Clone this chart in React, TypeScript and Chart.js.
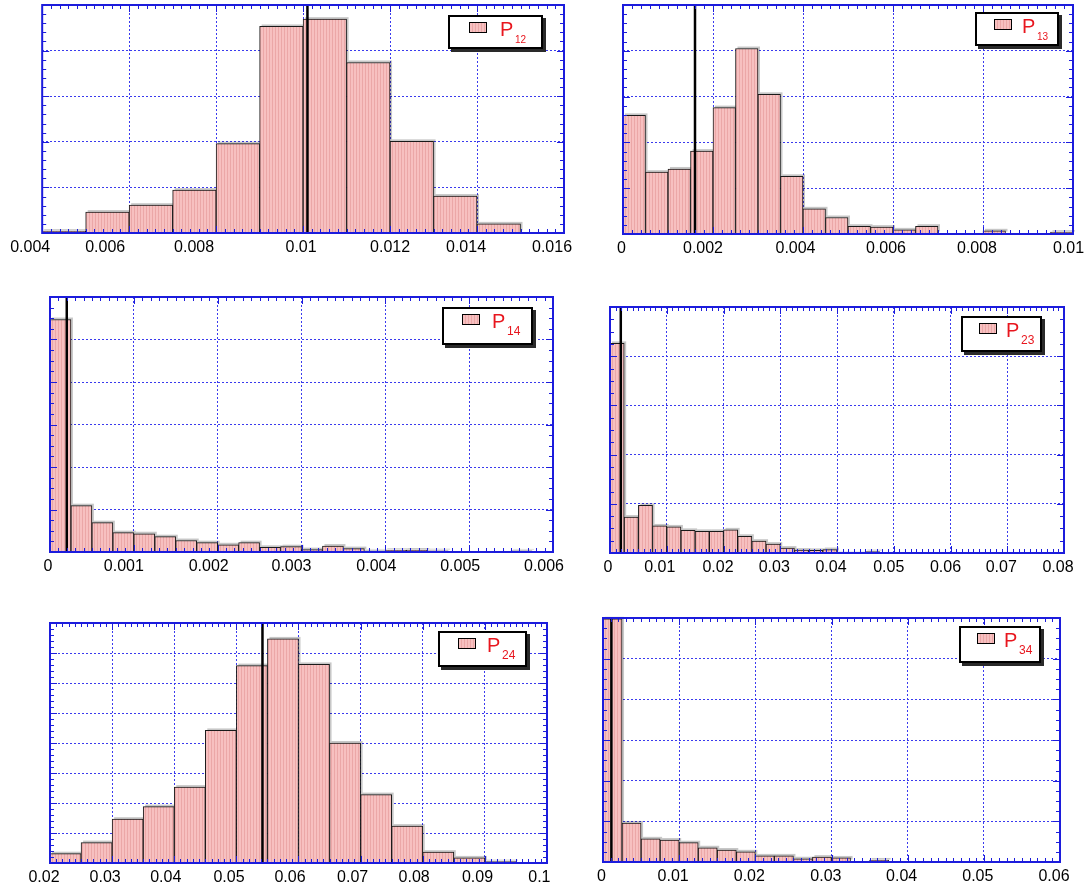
import React, { useEffect, useRef } from "react";
import { Chart, registerables } from "chart.js";

Chart.register(...registerables);

// ---------------- data ----------------
// P12
const p12Bins = [0.0045, 0.0055, 0.0065, 0.0075, 0.0085, 0.0095, 0.0105, 0.0115, 0.0125, 0.0135, 0.0145];
const p12Counts = [0.04, 0.46, 0.61, 0.94, 1.96, 4.53, 4.69, 3.74, 2.01, 0.81, 0.2];
const p12Ticks = [0.004, 0.006, 0.008, 0.01, 0.012, 0.014, 0.016];
const p12Marker = 0.0101;

// P13
const p13Bins = [0.00025, 0.00075, 0.00125, 0.00175, 0.00225, 0.00275, 0.00325, 0.00375, 0.00425, 0.00475, 0.00525, 0.00575, 0.00625, 0.00675, 0.00725, 0.00775, 0.00825, 0.00875, 0.00925, 0.00975];
const p13Counts = [2.59, 1.35, 1.42, 1.81, 2.76, 4.05, 3.05, 1.26, 0.55, 0.36, 0.17, 0.15, 0.09, 0.17, 0, 0, 0.07, 0, 0, 0.04];
const p13Ticks = [0, 0.002, 0.004, 0.006, 0.008, 0.01];
const p13Marker = 0.0016;

// P14
const p14Bins = [0.000125, 0.000375, 0.000625, 0.000875, 0.001125, 0.001375, 0.001625, 0.001875, 0.002125, 0.002375, 0.002625, 0.002875, 0.003125, 0.003375, 0.003625, 0.003875, 0.004125, 0.004375, 0.004625, 0.004875, 0.005125, 0.005375, 0.005625];
const p14Counts = [5.47, 1.09, 0.69, 0.455, 0.43, 0.36, 0.27, 0.22, 0.17, 0.22, 0.11, 0.125, 0.055, 0.14, 0.08, 0.025, 0.04, 0.047, 0.03, 0.015, 0.015, 0.01, 0.025];
const p14Ticks = [0, 0.001, 0.002, 0.003, 0.004, 0.005, 0.006];
const p14Marker = 0.0002;

// P23
const p23Bins = [0.00125, 0.00375, 0.00625, 0.00875, 0.01125, 0.01375, 0.01625, 0.01875, 0.02125, 0.02375, 0.02625, 0.02875, 0.03125, 0.03375, 0.03625, 0.03875, 0.04125, 0.04375, 0.04625];
const p23Counts = [4.26, 0.73, 0.97, 0.55, 0.53, 0.46, 0.44, 0.44, 0.47, 0.34, 0.24, 0.18, 0.1, 0.06, 0.054, 0.07, 0.02, 0.02, 0.027];
const p23Ticks = [0, 0.01, 0.02, 0.03, 0.04, 0.05, 0.06, 0.07, 0.08];
const p23Marker = 0.0019;

// P24
const p24Bins = [0.0225, 0.0275, 0.0325, 0.0375, 0.0425, 0.0475, 0.0525, 0.0575, 0.0625, 0.0675, 0.0725, 0.0775, 0.0825, 0.0875, 0.0925];
const p24Counts = [0.31, 0.68, 1.46, 1.88, 2.53, 4.42, 6.58, 7.47, 6.62, 4.0, 2.28, 1.23, 0.36, 0.17, 0.045];
const p24Ticks = [0.02, 0.03, 0.04, 0.05, 0.06, 0.07, 0.08, 0.09, 0.1];
const p24Marker = 0.0542;

// P34
const p34Bins = [0.00125, 0.00375, 0.00625, 0.00875, 0.01125, 0.01375, 0.01625, 0.01875, 0.02125, 0.02375, 0.02625, 0.02875, 0.03125, 0.03375, 0.03625];
const p34Counts = [5.98, 0.96, 0.57, 0.54, 0.475, 0.35, 0.295, 0.25, 0.15, 0.15, 0.08, 0.12, 0.1, 0.016, 0.05];
const p34Ticks = [0, 0.01, 0.02, 0.03, 0.04, 0.05, 0.06];
const p34Marker = 0.0011;

// ---------------- layout / style ----------------
type PanelCfg = {
  sub: string;
  bins: number[];
  counts: number[];
  ticks: number[];
  marker: number;
  rows: number;
  yMinor: number;
  rect: [number, number, number, number];
  legend: [number, number, number, number];
  labelShift: number[]; // px shift of each tick label relative to its tick
  subSize: number;
};

const panels: PanelCfg[] = [
  { sub: "12", bins: p12Bins, counts: p12Counts, ticks: p12Ticks, marker: p12Marker, rows: 5, yMinor: 5, rect: [42, 5, 564, 233], legend: [448, 15, 95, 34], labelShift: [-12, -24, -22, -2, 0, -11, -12], subSize: 10 },
  { sub: "13", bins: p13Bins, counts: p13Counts, ticks: p13Ticks, marker: p13Marker, rows: 5, yMinor: 5, rect: [623, 5, 1073, 234], legend: [975, 12, 84, 34], labelShift: [-1.5, -10, -7.5, -7, -6, -4.5], subSize: 10 },
  { sub: "14", bins: p14Bins, counts: p14Counts, ticks: p14Ticks, marker: p14Marker, rows: 6, yMinor: 4, rect: [50, 297, 553, 552], legend: [442, 307, 91, 38], labelShift: [-2, -10, -9, -10, -9, -9, -9], subSize: 12 },
  { sub: "23", bins: p23Bins, counts: p23Counts, ticks: p23Ticks, marker: p23Marker, rows: 5, yMinor: 4, rect: [610, 307, 1064, 553], legend: [961, 316, 81, 36], labelShift: [-2, -7, -5.5, -6, -6, -5, -5, -6, -6], subSize: 12 },
  { sub: "24", bins: p24Bins, counts: p24Counts, ticks: p24Ticks, marker: p24Marker, rows: 8, yMinor: 5, rect: [50, 623, 547, 863], legend: [438, 631, 89, 36], labelShift: [-6, -7, -8.5, -7.4, -8.5, -8, -8.6, -7.4, -7.6], subSize: 12 },
  { sub: "34", bins: p34Bins, counts: p34Counts, ticks: p34Ticks, marker: p34Marker, rows: 6, yMinor: 4, rect: [603, 618, 1060, 862], legend: [959, 626, 82, 37], labelShift: [-1.5, -6, -6, -5.6, -6, -6, -6], subSize: 12 },
];

const PADX = 36;
const PADT = 3;
const AXIS_H = 26;
const PADB = 0;
const X_MINOR = 10;
const GRID = "#3a3aee";
const FRAME = "#1c1cdc";
const FONT = '"Liberation Sans", Arial, sans-serif';
const RED = "#e8161e";

function makePattern(ctx: CanvasRenderingContext2D) {
  const c = document.createElement("canvas");
  c.width = 3;
  c.height = 4;
  const g = c.getContext("2d")!;
  g.fillStyle = "#f7c0c0";
  g.fillRect(0, 0, 3, 4);
  g.fillStyle = "#eba7a7";
  g.fillRect(2, 0, 1, 4);
  return ctx.createPattern(c, "repeat");
}

function fmt(v: number) {
  return String(Number(Number(v).toPrecision(6)));
}

function HistPanel({ cfg }: { cfg: PanelCfg }) {
  const ref = useRef<HTMLCanvasElement>(null);
  const [L, T, R, B] = cfg.rect;
  const w = R - L + 2 * PADX;
  const h = B - T + PADT + AXIS_H + PADB;

  useEffect(() => {
    const canvas = ref.current!;
    const ctx = canvas.getContext("2d")!;
    const pat = makePattern(ctx);
    const ticks = cfg.ticks;
    const xMin = ticks[0];
    const xMax = ticks[ticks.length - 1];
    const unitPerPx = (xMax - xMin) / (R - L);
    const labelAnchors = ticks.map((t, i) => t + cfg.labelShift[i] * unitPerPx);
    const labelTexts = ticks.map(fmt);

    const shadowPlugin = {
      id: "barShadow",
      beforeDatasetsDraw(chart: any) {
        const meta = chart.getDatasetMeta(1);
        const c = chart.ctx;
        c.save();
        c.fillStyle = "rgba(0,0,0,0.22)";
        meta.data.forEach((el: any) => {
          const p = el.getProps(["x", "y", "base", "width"], true);
          if (p.base - p.y < 0.5) return;
          c.fillRect(p.x - p.width / 2 + 2, p.y - 2, p.width, p.base - p.y);
        });
        c.restore();
      },
    };

    const framePlugin = {
      id: "frameTicks",
      afterDatasetsDraw(chart: any) {
        const c = chart.ctx;
        const a = chart.chartArea;
        const xs = chart.scales.x;
        const ys = chart.scales.y;
        c.save();
        c.strokeStyle = FRAME;
        c.lineWidth = 1;
        c.beginPath();
        for (let i = 0; i < ticks.length - 1; i++) {
          for (let k = 0; k < X_MINOR; k++) {
            const v = ticks[i] + ((ticks[i + 1] - ticks[i]) * k) / X_MINOR;
            const px = Math.round(xs.getPixelForValue(v)) + 0.5;
            const len = k === 0 ? 7 : 4;
            c.moveTo(px, a.top);
            c.lineTo(px, a.top + len);
            c.moveTo(px, a.bottom);
            c.lineTo(px, a.bottom - len);
          }
        }
        for (let r = 0; r < cfg.rows; r++) {
          for (let k = 0; k < cfg.yMinor; k++) {
            const v = r + k / cfg.yMinor;
            const py = Math.round(ys.getPixelForValue(v)) + 0.5;
            const len = k === 0 ? 7 : 4;
            c.moveTo(a.left, py);
            c.lineTo(a.left + len, py);
            c.moveTo(a.right, py);
            c.lineTo(a.right - len, py);
          }
        }
        c.stroke();
        c.lineWidth = 2;
        c.strokeRect(a.left, a.top, a.right - a.left, a.bottom - a.top);
        c.restore();
      },
    };

    const chart = new Chart(ctx, {
      type: "bar",
      data: {
        datasets: [
          {
            type: "line",
            data: [
              { x: cfg.marker, y: 0 },
              { x: cfg.marker, y: cfg.rows },
            ],
            borderColor: "#000",
            borderWidth: 2.5,
            pointRadius: 0,
            order: 0,
          },
          {
            type: "bar",
            data: cfg.bins.map((b, i) => ({ x: b, y: cfg.counts[i] })),
            backgroundColor: pat,
            borderColor: "#1a1a1a",
            borderWidth: 1,
            barPercentage: 1,
            categoryPercentage: 1,
            order: 1,
          },
        ],
      } as any,
      options: {
        responsive: false,
        animation: false,
        devicePixelRatio: 1,
        layout: { padding: { left: PADX, right: PADX, top: PADT, bottom: PADB } },
        plugins: { legend: { display: false }, tooltip: { enabled: false } },
        scales: {
          x: {
            type: "linear",
            position: "bottom",
            min: xMin,
            max: xMax,
            offset: false,
            grid: { offset: false, color: GRID, lineWidth: 1, drawTicks: false },
            border: { display: false, dash: [2, 2] },
            ticks: { display: false },
            afterBuildTicks: (s: any) => {
              s.ticks = ticks.map((v) => ({ value: v }));
            },
            afterFit: (s: any) => {
              s.height = 0;
            },
          },
          xl: {
            type: "linear",
            position: "bottom",
            min: xMin,
            max: xMax,
            offset: false,
            grid: { display: false, drawTicks: false },
            border: { display: false },
            ticks: {
              color: "#000",
              font: { family: FONT, size: 16 },
              padding: 5,
              maxRotation: 0,
              autoSkip: false,
              callback: (_v: any, i: number) => labelTexts[i],
            },
            afterBuildTicks: (s: any) => {
              s.ticks = labelAnchors.map((v) => ({ value: v }));
            },
            afterFit: (s: any) => {
              s.height = AXIS_H;
            },
          },
          y: {
            type: "linear",
            min: 0,
            max: cfg.rows,
            ticks: { display: false, stepSize: 1 },
            grid: { color: GRID, lineWidth: 1, drawTicks: false },
            border: { display: false, dash: [2, 2] },
            afterFit: (s: any) => {
              s.width = 0;
            },
          },
        },
      } as any,
      plugins: [shadowPlugin, framePlugin],
    });
    return () => chart.destroy();
  }, [cfg]);

  const [lx, ly, lw, lh] = cfg.legend;
  const pLeft = Math.round(lw * 0.53);
  return (
    <>
      <canvas
        ref={ref}
        width={w}
        height={h}
        style={{ position: "absolute", left: L - PADX, top: T - PADT, width: w, height: h }}
      />
      <div
        style={{
          position: "absolute",
          left: lx,
          top: ly,
          width: lw,
          height: lh,
          boxSizing: "border-box",
          background: "#fff",
          border: "2px solid #000",
          boxShadow: "3px 3px 0 #2a2a2a",
        }}
      >
        <div
          style={{
            position: "absolute",
            left: Math.round(lw * 0.2),
            top: 5,
            width: 18,
            height: 11,
            boxSizing: "border-box",
            border: "1.5px solid #000",
            background: "repeating-linear-gradient(90deg, #f7c0c0 0px, #f7c0c0 2px, #eba7a7 2px, #eba7a7 3px)",
          }}
        />
        <span
          style={{
            position: "absolute",
            left: pLeft,
            top: 1,
            fontFamily: FONT,
            fontSize: 20,
            lineHeight: "normal",
            color: RED,
          }}
        >
          P
        </span>
        <span
          style={{
            position: "absolute",
            left: pLeft + 15,
            top: cfg.subSize > 10 ? 15 : 17,
            fontFamily: FONT,
            fontSize: cfg.subSize,
            lineHeight: "normal",
            color: RED,
          }}
        >
          {cfg.sub}
        </span>
      </div>
    </>
  );
}

export default function App() {
  return (
    <div
      style={{
        position: "absolute",
        left: 0,
        top: 0,
        width: 1085,
        height: 887,
        background: "#fff",
        overflow: "hidden",
      }}
    >
      {panels.map((p) => (
        <HistPanel key={p.sub} cfg={p} />
      ))}
    </div>
  );
}
